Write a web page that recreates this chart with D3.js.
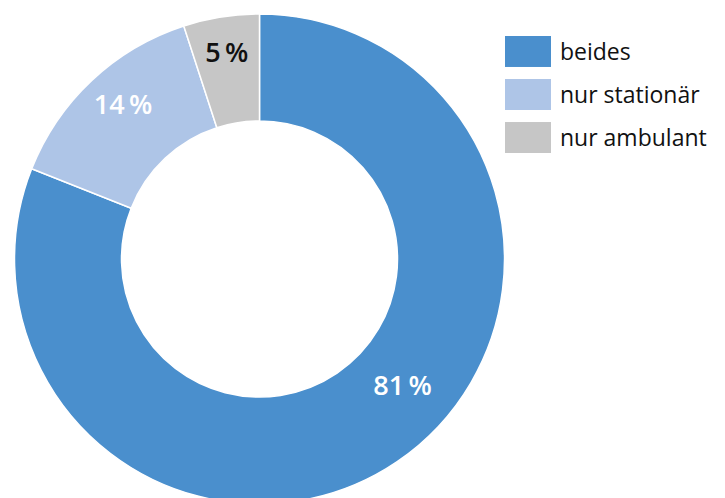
<!DOCTYPE html>
<html>
<head>
    <meta charset="utf-8" />
    <title>Donut Chart</title>
    <script src="https://cdn.jsdelivr.net/npm/d3@7"></script>
    <style>
        body { margin: 0; background: #fff; }
        text { font-family: "Open Sans", "Noto Sans", sans-serif; }
    </style>
</head>
<body>
    <script>
        const categories = ["beides", "nur stationär", "nur ambulant"];
        const values = [81, 14, 5];
        const labels = ["81\u2009%", "14\u2009%", "5\u2009%"];
        const colors = ["#4a8fcd", "#aec5e7", "#c6c6c6"];
        const labelColors = ["#ffffff", "#ffffff", "#111111"];

        const width = 725, height = 498;
        const cx = 259.5, cy = 259, outerR = 245, innerR = 138;
        // manual label placement: radius and angle shift (radians)
        const labelR = [191, 206, 209];
        const labelShift = [-0.25, 0.03, 0];

        const data = categories.map((c, i) => ({ id: c, value: values[i], i: i }));

        const svg = d3.select("body").append("svg")
            .attr("width", width)
            .attr("height", height);

        const pie = d3.pie()
            .sort(null)
            .value(d => d.value);

        const arc = d3.arc()
            .innerRadius(innerR)
            .outerRadius(outerR);

        const g = svg.append("g")
            .attr("transform", `translate(${cx},${cy})`);

        const arcs = pie(data);

        g.selectAll("path.arc")
            .data(arcs)
            .enter().append("path")
            .attr("class", "arc")
            .attr("d", arc)
            .attr("fill", d => colors[d.data.i])
            .attr("stroke", "#fff")
            .attr("stroke-width", 1.5);

        g.selectAll("text.label")
            .data(arcs)
            .enter().append("text")
            .attr("class", "label")
            .attr("transform", d => {
                const a = (d.startAngle + d.endAngle) / 2 + labelShift[d.data.i];
                const r = labelR[d.data.i];
                return `translate(${r * Math.sin(a)},${-r * Math.cos(a)})`;
            })
            .attr("dy", "0.36em")
            .attr("text-anchor", "middle")
            .attr("font-size", 27)
            .attr("font-weight", 600)
            .attr("fill", d => labelColors[d.data.i])
            .text(d => labels[d.data.i]);

        const legend = svg.append("g")
            .attr("transform", "translate(505,36)");

        const y = d3.scaleBand()
            .domain(categories)
            .range([0, 117])
            .paddingInner(0.28);

        const items = legend.selectAll("g.item")
            .data(categories)
            .enter().append("g")
            .attr("class", "item")
            .attr("transform", d => `translate(0,${y(d)})`);

        items.append("rect")
            .attr("width", 46)
            .attr("height", y.bandwidth())
            .attr("fill", (d, i) => colors[i]);

        items.append("text")
            .attr("x", 55)
            .attr("y", y.bandwidth() / 2)
            .attr("dy", "0.35em")
            .attr("font-size", 23)
            .attr("fill", "#111")
            .text(d => d);
    </script>
</body>
</html>
